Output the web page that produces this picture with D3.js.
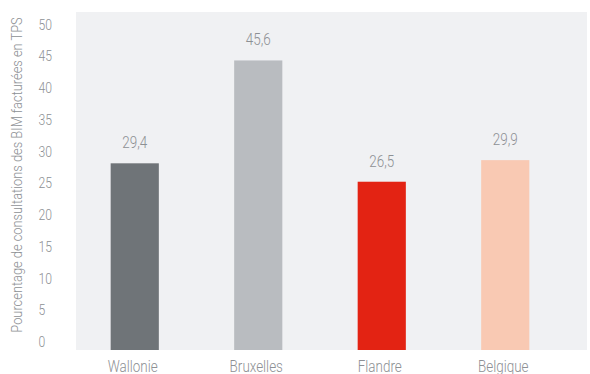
<!DOCTYPE html>
<html>
<head>
<meta charset="utf-8">
<script src="https://cdn.jsdelivr.net/npm/d3@7/dist/d3.min.js"></script>
<style>
  html, body { margin: 0; padding: 0; background: #ffffff; }
  svg { display: block; }
  text { font-family: Roboto, "Liberation Sans", sans-serif; font-weight: 300; }
</style>
</head>
<body>
<svg id="chart" width="590" height="374"></svg>
<script>
// Share of consultations of BIM beneficiaries billed under third-party payment
const regions = ["Wallonie", "Bruxelles", "Flandre", "Belgique"];
const shares = [29.4, 45.6, 26.5, 29.9];
const barColors = ["#6f7478", "#b9bcc0", "#e32313", "#f9c9b3"];
const yTicks = [0, 5, 10, 15, 20, 25, 30, 35, 40, 45, 50];
const yTitle = "Pourcentage de consultations des BIM facturées en TPS";

const textColor = "#8d9094";
const narrow = 0.84; // horizontal squeeze for a condensed look

const svg = d3.select("#chart");

const y = d3.scaleLinear().domain([0, 50]).range([350, 32.5]);
const x = d3.scaleBand().domain(regions).range([73, 567])
  .paddingInner(0.61).paddingOuter(0.305);

// plot background
svg.append("rect")
  .attr("x", 76).attr("y", 12)
  .attr("width", 511).attr("height", 338)
  .attr("fill", "#f0f1f3");

// y tick labels, left-aligned and sitting just above each tick position
svg.append("g").selectAll("text")
  .data(yTicks)
  .join("text")
  .attr("transform", d => `translate(38.5,${y(d) - 3}) scale(${narrow},1)`)
  .attr("font-size", 14.5)
  .attr("fill", textColor)
  .text(d => d);

// y axis title
svg.append("text")
  .attr("transform", `translate(22,175) rotate(-90) scale(${narrow},1)`)
  .attr("text-anchor", "middle")
  .attr("font-size", 15.3)
  .attr("fill", textColor)
  .text(yTitle);

// bars
svg.append("g").selectAll("rect")
  .data(regions)
  .join("rect")
  .attr("x", d => x(d))
  .attr("y", (d, i) => y(shares[i]))
  .attr("width", x.bandwidth())
  .attr("height", (d, i) => y(0) - y(shares[i]))
  .attr("fill", (d, i) => barColors[i]);

// value labels above the bars
const fmt = v => d3.format(".1f")(v).replace(".", ",");
svg.append("g").selectAll("text")
  .data(regions)
  .join("text")
  .attr("transform", (d, i) =>
    `translate(${x(d) + x.bandwidth() / 2},${y(shares[i]) - 15}) scale(${narrow},1)`)
  .attr("text-anchor", "middle")
  .attr("font-size", 16)
  .attr("fill", textColor)
  .text((d, i) => fmt(shares[i]));

// category labels
svg.append("g").selectAll("text")
  .data(regions)
  .join("text")
  .attr("transform", d =>
    `translate(${x(d) + x.bandwidth() / 2 - 2},372) scale(${narrow},1)`)
  .attr("text-anchor", "middle")
  .attr("font-size", 16)
  .attr("fill", textColor)
  .text(d => d);
</script>
</body>
</html>
